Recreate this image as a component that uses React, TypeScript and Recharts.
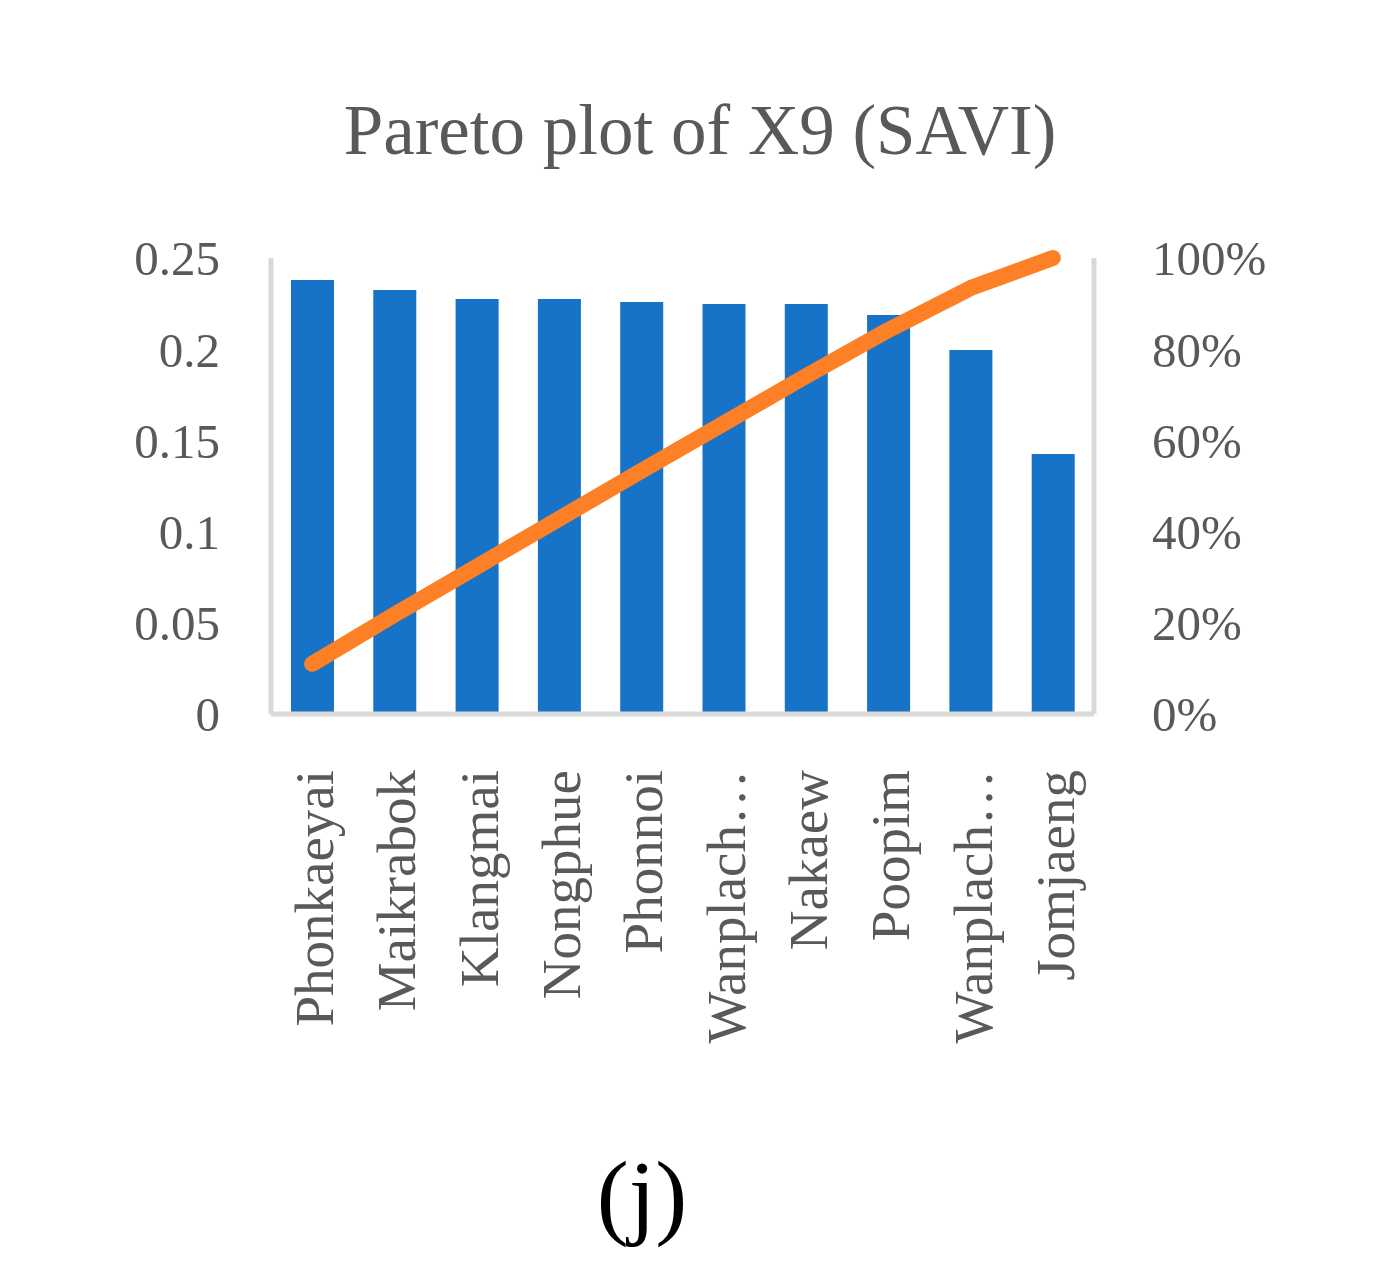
import React from 'react';
import { ComposedChart, Bar, Line, XAxis, YAxis } from 'recharts';

const categories = ['Phonkaeyai', 'Maikrabok', 'Klangmai', 'Nongphue', 'Phonnoi', 'Wanplach…', 'Nakaew', 'Poopim', 'Wanplach…', 'Jomjaeng'];
const savi = [0.238, 0.2325, 0.2275, 0.2275, 0.2259, 0.2248, 0.2248, 0.2188, 0.1996, 0.1425];
const cumulative = [11.0, 21.8, 32.3, 42.8, 53.3, 63.7, 74.1, 84.2, 93.4, 100];
const leftTicks = [0, 0.05, 0.1, 0.15, 0.2, 0.25];
const rightTicks = [0, 20, 40, 60, 80, 100];

const data = categories.map((name, i) => ({ name: name + '#' + i, label: name, savi: savi[i], cum: cumulative[i] }));

const FONT = '"Liberation Serif", "Times New Roman", serif';
const GREY = '#595959';

const XTick = (props: any) => {
  const { x, y, payload } = props;
  const label = String(payload.value).split('#')[0];
  return (
    <g transform={`translate(${x},${y})`}>
      <text transform="rotate(-90)" x={0} y={21} textAnchor="end" fill={GREY} fontSize={55} fontFamily={FONT}>
        {label}
      </text>
    </g>
  );
};

export default function App() {
  return (
    <div style={{ position: 'absolute', left: 0, top: 0, width: 1397, height: 1282, background: '#fff' }}>
      <div style={{ position: 'absolute', left: 0, top: 90, width: 1400, textAlign: 'center', fontFamily: FONT, fontSize: 71, color: GREY, lineHeight: '80px', whiteSpace: 'nowrap' }}>
        Pareto plot of X9 (SAVI)
      </div>
      <ComposedChart width={1397} height={1282} data={data} margin={{ top: 258, right: 0, bottom: 0, left: 0 }} barSize={43}>
        <XAxis dataKey="name" height={568} interval={0} tickLine={false} tickSize={0} tickMargin={56}
          axisLine={{ stroke: '#D9D9D9', strokeWidth: 5 }} tick={<XTick />} />
        <YAxis yAxisId="left" orientation="left" width={271} domain={[0, 0.25]} ticks={leftTicks}
          tickLine={false} tickSize={0} tickMargin={51} axisLine={{ stroke: '#D9D9D9', strokeWidth: 5 }}
          tick={{ fill: GREY, fontSize: 49, fontFamily: FONT }} />
        <YAxis yAxisId="right" orientation="right" width={303} domain={[0, 100]} ticks={rightTicks}
          tickFormatter={(v: number) => `${v}%`}
          tickLine={false} tickSize={0} tickMargin={58} axisLine={{ stroke: '#D9D9D9', strokeWidth: 5 }}
          tick={{ fill: GREY, fontSize: 49, fontFamily: FONT, textAnchor: 'start' }} />
        <Bar yAxisId="left" dataKey="savi" fill="#1773C8" isAnimationActive={false} />
        <Line yAxisId="right" dataKey="cum" stroke="#FD7F26" strokeWidth={16} strokeLinecap="round" strokeLinejoin="round"
          dot={false} activeDot={false} type="linear" isAnimationActive={false} />
      </ComposedChart>
      <div style={{ position: 'absolute', left: 0, top: 1140, width: 1284, textAlign: 'center', fontFamily: FONT, fontSize: 96, color: '#000', lineHeight: '110px' }}>
        (j)
      </div>
    </div>
  );
}
